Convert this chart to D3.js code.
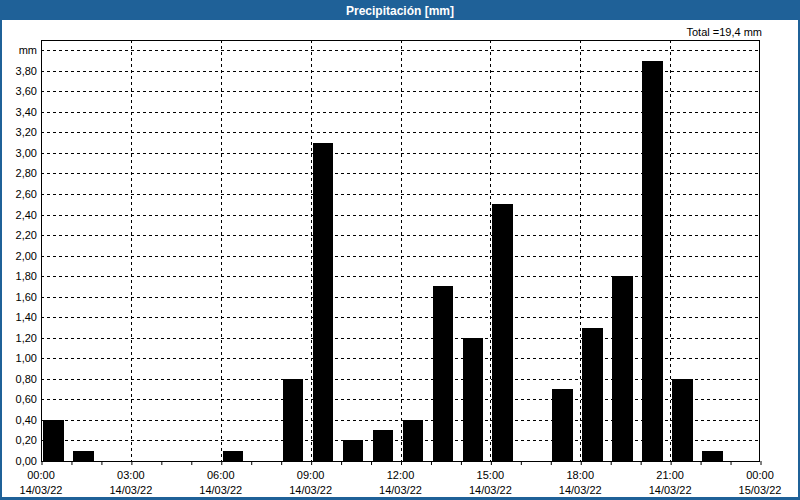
<!DOCTYPE html>
<html><head><meta charset="utf-8">
<script src="https://cdn.jsdelivr.net/npm/d3@7"></script>
<style>
html,body{margin:0;padding:0;background:#fff;}
svg{display:block;}
text{font-family:"Liberation Sans",Arial,sans-serif;}
</style></head>
<body>
<svg id="c" width="800" height="500"></svg>
<script>
const hours = [0,1,2,3,4,5,6,7,8,9,10,11,12,13,14,15,16,17,18,19,20,21,22,23];
const values = [0.4,0.1,0,0,0,0,0.1,0,0.8,3.1,0.2,0.3,0.4,1.7,1.2,2.5,0,0.7,1.3,1.8,3.9,0.8,0.1,0];
const xTickHours = [0,3,6,9,12,15,18,21,24];
const xTickTimes = ["00:00","03:00","06:00","09:00","12:00","15:00","18:00","21:00","00:00"];
const xTickDates = ["14/03/22","14/03/22","14/03/22","14/03/22","14/03/22","14/03/22","14/03/22","14/03/22","15/03/22"];
const yTicks = [0,0.2,0.4,0.6,0.8,1.0,1.2,1.4,1.6,1.8,2.0,2.2,2.4,2.6,2.8,3.0,3.2,3.4,3.6,3.8,4.0];
const title = "Precipitación [mm]";
const totalLabel = "Total =19,4 mm";

const svg = d3.select("#c");
const blue = "#1f6198";
const L=41, R=760, T=40, B=461;

// window frame
svg.append("rect").attr("x",0).attr("y",0).attr("width",800).attr("height",500).attr("fill",blue);
svg.append("rect").attr("x",2).attr("y",20).attr("width",796).attr("height",477).attr("fill","#fff");
svg.append("text").attr("x",400).attr("y",14.5).attr("text-anchor","middle")
  .attr("fill","#fff").attr("font-weight","bold").attr("font-size","12px").text(title);

const x = d3.scaleLinear().domain([0,24]).range([L,R]);
const y = d3.scaleLinear().domain([0,4.1]).range([B,T]);

// grid
const g = svg.append("g");
yTicks.filter(v=>v>0).forEach(v=>{
  g.append("line").attr("x1",L).attr("x2",R).attr("y1",Math.round(y(v))+0.5).attr("y2",Math.round(y(v))+0.5)
   .attr("stroke","#000").attr("stroke-dasharray","3,3");
});
xTickHours.filter(h=>h>0&&h<24).forEach(h=>{
  g.append("line").attr("y1",T).attr("y2",B).attr("x1",Math.round(x(h))+0.5).attr("x2",Math.round(x(h))+0.5)
   .attr("stroke","#000").attr("stroke-dasharray","3,3");
});

// bars
svg.append("g").selectAll("rect").data(hours).join("rect")
  .attr("x",h=>Math.round(x(h+0.07)))
  .attr("width",h=>Math.round(x(h+0.755))-Math.round(x(h+0.07)))
  .attr("y",(h,i)=>Math.round(y(values[i])))
  .attr("height",(h,i)=>B-Math.round(y(values[i])))
  .attr("fill","#000");

// frame
svg.append("rect").attr("x",L+0.5).attr("y",T+0.5).attr("width",R-L-1).attr("height",B-T).attr("fill","none").attr("stroke","#000");

// y axis labels
const yl = svg.append("g");
yTicks.forEach(v=>{
  yl.append("text").attr("x",37).attr("y",Math.round(y(v))+4).attr("text-anchor","end")
   .attr("font-size","11px").attr("fill","#000")
   .text(v===4.0 ? "mm" : d3.format(".2f")(v).replace(".",","));
});

// x axis
const xa = d3.axisBottom(x).tickValues(d3.range(0,25)).tickSize(4).tickFormat("");
const ga = svg.append("g").attr("transform",`translate(0,${B})`).call(xa);
ga.select(".domain").remove();
ga.selectAll("line").attr("stroke","#000").attr("transform","translate(0.5,0)");
xTickHours.forEach((h,i)=>{
  svg.append("text").attr("x",x(h)).attr("y",479).attr("text-anchor","middle").attr("font-size","11px").text(xTickTimes[i]);
  svg.append("text").attr("x",x(h)).attr("y",494).attr("text-anchor","middle").attr("font-size","11px").text(xTickDates[i]);
});

svg.append("text").attr("x",762).attr("y",36).attr("text-anchor","end").attr("font-size","11px").text(totalLabel);
</script>
</body></html>
